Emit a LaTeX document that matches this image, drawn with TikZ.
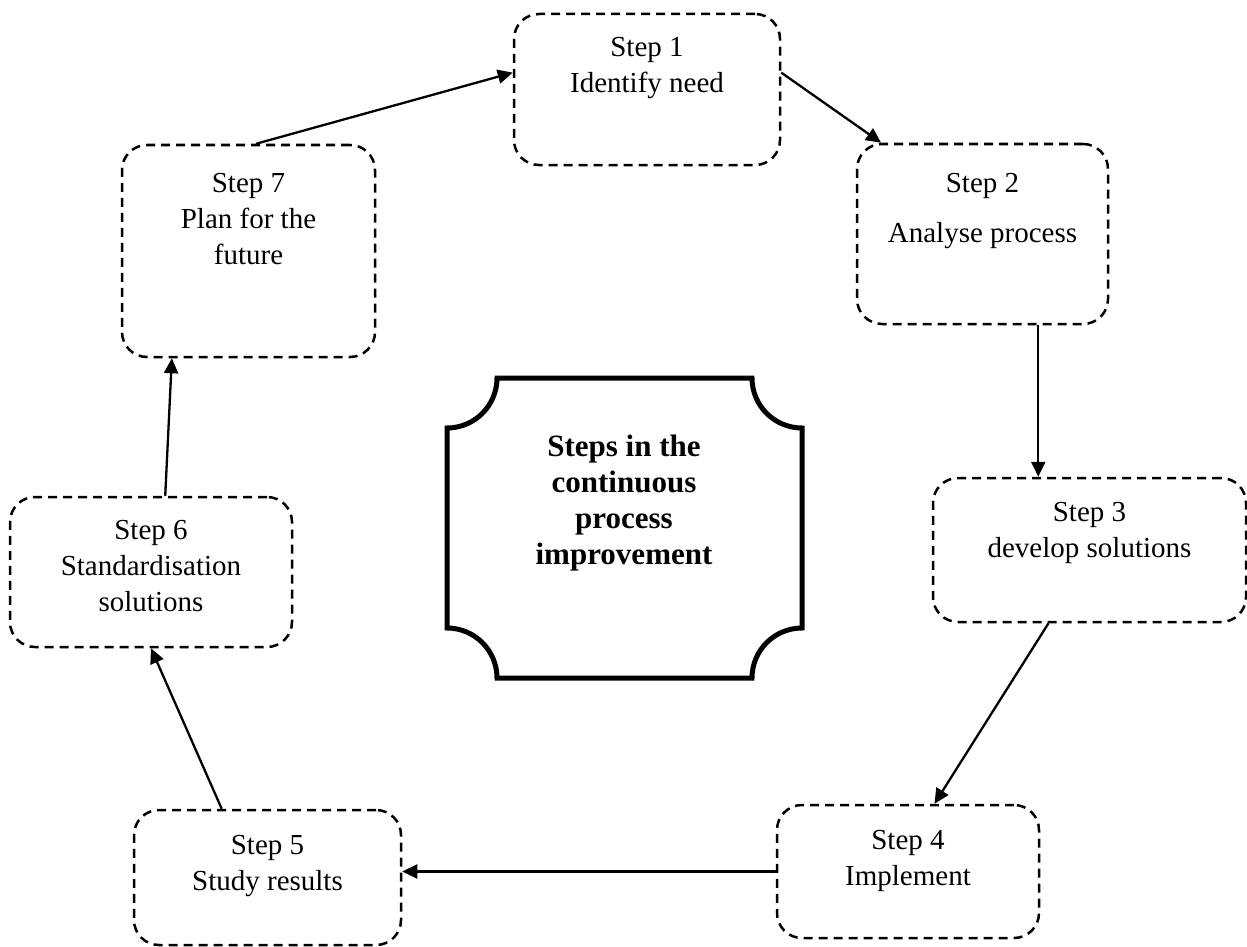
\documentclass[tikz,border=0pt]{standalone}
\usepackage{fontspec}
\setmainfont{Liberation Serif}
\usetikzlibrary{arrows.meta,positioning,calc}
\tikzset{
  stepbox/.style={draw, line width=2.5pt, dash pattern=on 9pt off 6pt,
      rounded corners=25pt, inner sep=0pt},
  stxt/.style={font=\fontsize{29}{36}\selectfont, align=center, inner sep=0pt,
      anchor=north},
  arr/.style={-{Triangle[length=15pt,width=14pt]}, line width=2.3pt},
  frame/.style={line width=5pt, line join=miter},
  ttl/.style={font=\fontsize{31}{36}\selectfont\bfseries, align=center, inner sep=0pt},
}
\begin{document}
\begin{tikzpicture}[x=1pt,y=1pt]
\useasboundingbox (0,0) rectangle (1247,-947);
%---- the steps
\node[stepbox, minimum width=266, minimum height=151] (s1) at (647,-89.5) {};
\node[stepbox, minimum width=251, minimum height=180] (s2) at (982.5,-234) {};
\node[stepbox, minimum width=313, minimum height=144] (s3) at (1089.5,-550) {};
\node[stepbox, minimum width=262, minimum height=133] (s4) at (908,-871.5) {};
\node[stepbox, minimum width=267, minimum height=135] (s5) at (267.5,-877.5) {};
\node[stepbox, minimum width=282, minimum height=150] (s6) at (151,-572) {};
\node[stepbox, minimum width=253, minimum height=212] (s7) at (248.5,-251) {};
\node[stxt] (t1) at (647,-37) {Step 1\\Identify need};
\node[stxt] (t2) at (982.5,-173) {Step 2\\[14pt]Analyse process};
\node[stxt] (t3) at (1089.5,-502) {Step 3\\develop solutions};
\node[stxt] (t4) at (908,-830) {Step 4\\Implement};
\node[stxt] (t5) at (267.5,-835) {Step 5\\Study results};
\node[stxt] (t6) at (151,-520) {Step 6\\Standardisation\\solutions};
\node[stxt] (t7) at (248.5,-173) {Step 7\\Plan for the\\future};
%---- the middle
\draw[frame] (497,-378) -- (752,-378) arc[start angle=180, end angle=270, radius=50]
  -- (802,-628) arc[start angle=90, end angle=180, radius=50]
  -- (497,-678) arc[start angle=0, end angle=90, radius=50]
  -- (447,-428) arc[start angle=270, end angle=360, radius=50] -- cycle;
\node[ttl] (title) at (624,-503) {Steps in the\\continuous\\process\\improvement};
%---- the arrows
\draw[arr] ($(s7.north west)!0.53!(s7.north east)$) -- ($(s1.north west)!0.39!(s1.south west)$);
\draw[arr] ($(s1.north east)!0.39!(s1.south east)$) -- ($(s2.north west)!0.1!(s2.north east)$);
\draw[arr] ($(s2.south west)!0.72!(s2.south east)$) coordinate (c23) -- (c23 |- s3.north);
\draw[arr] ($(s3.south west)!0.37!(s3.south east)$) -- ($(s4.north west)!0.6!(s4.north east)$);
\draw[arr] (s4.west) -- (s4.west -| s5.east);
\draw[arr] ($(s5.north west)!0.33!(s5.north east)$) -- ($(s6.south west)!0.5!(s6.south east)$);
\draw[arr] ($(s6.north west)!0.55!(s6.north east)$) -- ($(s7.south west)!0.2!(s7.south east)$);
\end{tikzpicture}
\end{document}
